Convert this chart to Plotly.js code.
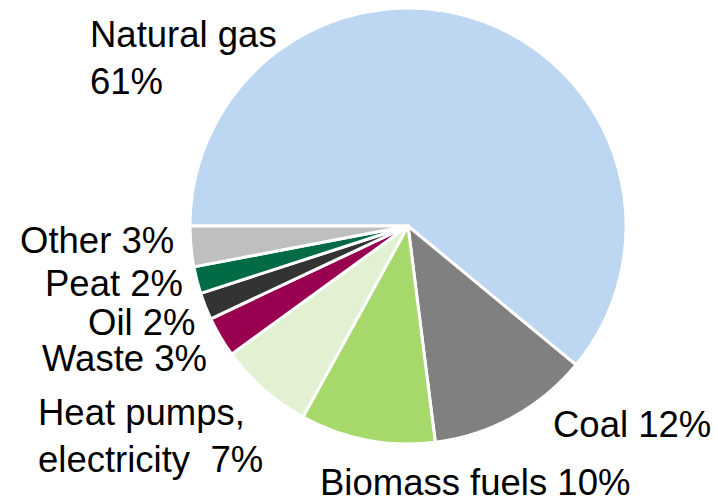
<!DOCTYPE html>
<html>
<head>
<meta charset="utf-8">
<script src="https://cdn.plot.ly/plotly-3.0.1.min.js"></script>
<style>
  body { margin: 0; background: #fff; }
  #chart { width: 718px; height: 500px; }
</style>
</head>
<body>
<div id="chart"></div>
<script>
// data (shares in %)
let labels = ['Natural gas', 'Coal', 'Biomass fuels', 'Heat pumps, electricity', 'Waste', 'Oil', 'Peat', 'Other'];
let values = [61, 12, 10, 7, 3, 2, 2, 3];
let colors = ['#BDD7F2', '#808080', '#A6D86B', '#E2F1D2', '#990050', '#333333', '#006B45', '#BFBFBF'];

// how each label is written next to the pie
let labelText = ['Natural gas<br>', 'Coal ', 'Biomass fuels ', 'Heat pumps,<br>electricity\u00a0 ', 'Waste ', 'Oil ', 'Peat ', 'Other '];
// label left edge / vertical centre, in pixels of the 718x500 picture
let labelX = [89, 552, 319, 37, 41, 87, 44, 19];
let labelY = [58, 424, 482, 436, 358, 322, 283, 240];

let W = 718, H = 500;
let cx = 408, cy = 226, r = 218;

let annotations = [];
for (let i = 0; i < labels.length; i++) {
    annotations.push({
        text: labelText[i] + values[i] + '%',
        xref: 'paper', yref: 'paper',
        x: labelX[i] / W,
        y: 1 - labelY[i] / H,
        xanchor: 'left', yanchor: 'middle',
        align: 'left',
        showarrow: false,
        borderpad: 0,
        font: {family: 'Liberation Sans, Arial, sans-serif', size: 36.5, color: '#000'}
    });
}

let layout = {
    width: W,
    height: H,
    margin: {l: 0, r: 0, t: 0, b: 0},
    paper_bgcolor: '#fff',
    showlegend: false,
    annotations: annotations
};

Plotly.newPlot('chart', [{
    type: 'pie',
    labels: labels,
    values: values,
    sort: false,
    direction: 'clockwise',
    rotation: -90,
    textinfo: 'none',
    hoverinfo: 'none',
    marker: {colors: colors, line: {color: '#fff', width: 3}},
    domain: {
        x: [(cx - r) / W, (cx + r) / W],
        y: [1 - (cy + r) / H, 1 - (cy - r) / H]
    }
}], layout, {staticPlot: true});
</script>
</body>
</html>
